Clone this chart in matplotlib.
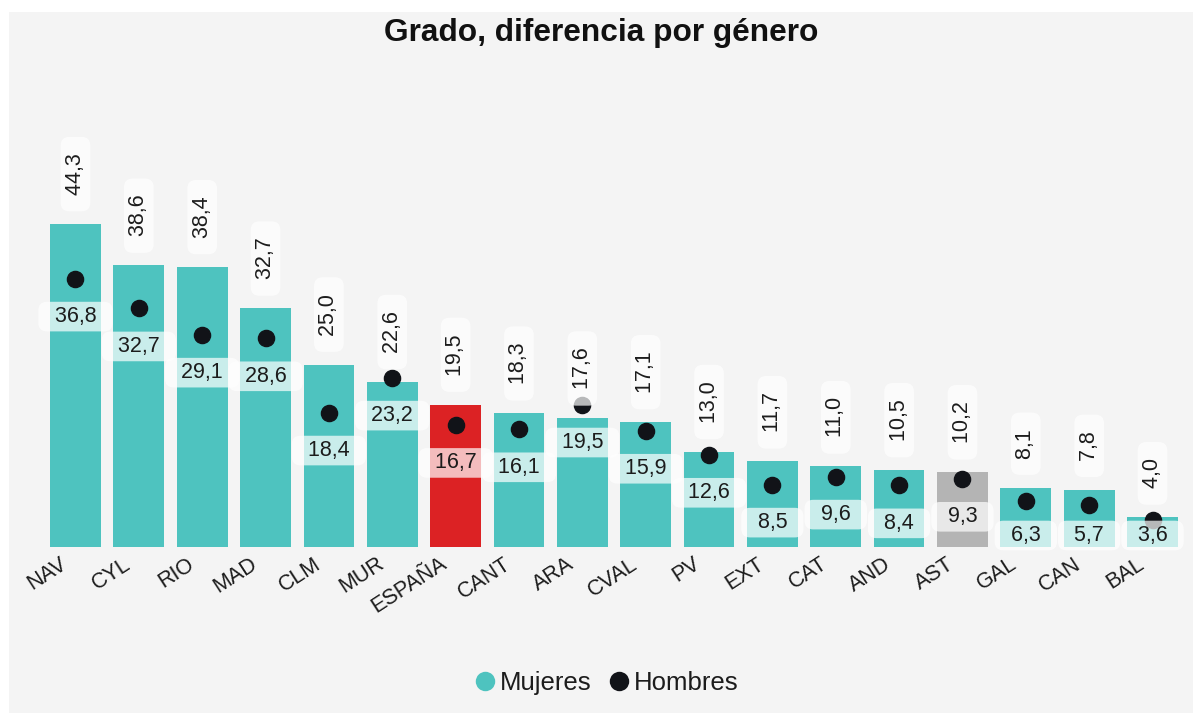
import matplotlib
matplotlib.use('Agg')
import matplotlib.pyplot as plt
from matplotlib.patches import Rectangle
from matplotlib.lines import Line2D
from matplotlib.transforms import ScaledTranslation

plt.rcParams['font.family'] = ['Liberation Sans', 'DejaVu Sans']

# ── Data ─────────────────────────────────────────────────────────────────────
regiones = ['NAV', 'CYL', 'RIO', 'MAD', 'CLM', 'MUR', 'ESPAÑA', 'CANT', 'ARA',
            'CVAL', 'PV', 'EXT', 'CAT', 'AND', 'AST', 'GAL', 'CAN', 'BAL']
mujeres = [44.3, 38.6, 38.4, 32.7, 25.0, 22.6, 19.5, 18.3, 17.6,
           17.1, 13.0, 11.7, 11.0, 10.5, 10.2, 8.1, 7.8, 4.0]
hombres = [36.8, 32.7, 29.1, 28.6, 18.4, 23.2, 16.7, 16.1, 19.5,
           15.9, 12.6, 8.5, 9.6, 8.4, 9.3, 6.3, 5.7, 3.6]

TEAL = '#4EC3BF'
RED = '#DC2224'
GREY = '#B4B4B4'
DOT = '#111318'
TXT = '#1c1c1c'

colores = [RED if r == 'ESPAÑA' else GREY if r == 'AST' else TEAL for r in regiones]


def fmt(v):
    return f'{v:.1f}'.replace('.', ',')


W, H = 1202, 715
fig = plt.figure(figsize=(W / 100, H / 100), dpi=100, facecolor='white')
fig.patches.append(Rectangle((9 / W, 2 / H), (1193 - 9) / W, (713 - 12) / H,
                             transform=fig.transFigure, facecolor='#F4F4F4',
                             edgecolor='none', zorder=-10))

ax = fig.add_axes([43.8 / W, (H - 546.5) / H, 1140.4 / W, 364 / H])
ax.set_facecolor('none')
for s in ax.spines.values():
    s.set_visible(False)

x = list(range(len(regiones)))
ax.bar(x, mujeres, width=0.8, color=colores, zorder=1)
ax.scatter(x, hombres, s=135, color=DOT, zorder=3, clip_on=False)

ax.set_xlim(-0.5, len(regiones) - 0.5)
ax.set_ylim(0, 50)
ax.set_yticks([])

ax.set_xticks(x)
ax.set_xticklabels(regiones, rotation=33, ha='right', va='top',
                   rotation_mode='anchor', fontsize=15.5, color=TXT)
ax.tick_params(axis='x', length=0, pad=5)
shift = ScaledTranslation(-16 / 100, 0, fig.dpi_scale_trans)
for lab in ax.get_xticklabels():
    lab.set_transform(lab.get_transform() + shift)

box = dict(boxstyle='round,pad=0.2,rounding_size=0.4', facecolor='white',
           edgecolor='none', alpha=0.7)

px_per_unit = 364 / 50
bottom_px = 546.5

# Mujeres labels (above the bars, rotated)
for xi, v in zip(x, mujeres):
    ax.annotate(f'  {fmt(v)}  ', xy=(xi, v), xytext=(0, 17 * 0.72),
                textcoords='offset points', rotation=90, ha='center',
                va='bottom', fontsize=15.5, color=TXT, bbox=box, zorder=4,
                annotation_clip=False)

# Hombres labels (below the dots, kept inside the plot)
for xi, v in zip(x, hombres):
    dot_px = bottom_px - v * px_per_unit
    off = min(38, 535.5 - dot_px)
    ax.annotate(f'  {fmt(v)}  ', xy=(xi, v), xytext=(0, -off * 0.72),
                textcoords='offset points', ha='center', va='center',
                fontsize=15.5, color=TXT, bbox=box, zorder=4,
                annotation_clip=False)

fig.text(0.5, 1 - 41 / H, 'Grado, diferencia por género', ha='center',
         va='baseline', fontsize=22.8, fontweight='bold', color='#111111')

handles = [Line2D([], [], marker='o', linestyle='none', markersize=14,
                  markerfacecolor=TEAL, markeredgecolor='none', label='Mujeres'),
           Line2D([], [], marker='o', linestyle='none', markersize=14,
                  markerfacecolor=DOT, markeredgecolor='none', label='Hombres')]
fig.legend(handles=handles, loc='center', bbox_to_anchor=(0.504, 1 - 683 / H),
           ncol=2, frameon=False, fontsize=18.5, handlelength=0.9,
           handletextpad=0.15, columnspacing=0.6, labelcolor=TXT)

fig.savefig('out.png', dpi=100, facecolor='white')
